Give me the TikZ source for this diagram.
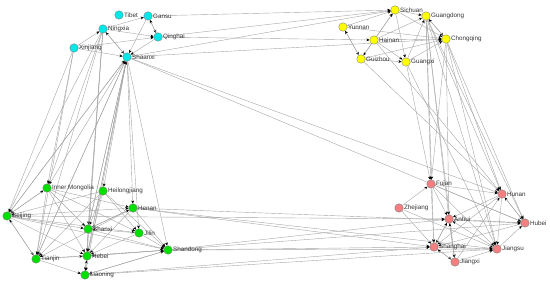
\documentclass[tikz,border=0pt]{standalone}
\usepackage{fontspec}
\setmainfont{Liberation Sans}
\usetikzlibrary{arrows.meta,backgrounds}
\definecolor{ncyan}{RGB}{0,232,232}
\definecolor{nyel}{RGB}{255,255,0}
\definecolor{ngrn}{RGB}{0,225,0}
\definecolor{nred}{RGB}{242,128,128}
\definecolor{edg}{RGB}{165,165,165}
\tikzset{
  nd/.style={circle,draw=black!55,line width=0.3pt,minimum size=8.5pt,inner sep=0pt},
  cy/.style={nd,fill=ncyan},
  ye/.style={nd,fill=nyel},
  gr/.style={nd,fill=ngrn},
  rd/.style={nd,fill=nred},
  lbl/.style={font=\fontsize{6.3}{7}\selectfont,text=black!80,inner sep=0.5pt,label distance=0pt},
  ed/.style={draw=edg,line width=0.4pt,-{Stealth[black,length=3.2pt,width=2.8pt]}}
}
\begin{document}
\begin{tikzpicture}[x=1pt,y=-1pt]
\useasboundingbox (0,0) rectangle (550,283);
% cyan
\node[cy,label={[lbl]right:Tibet}] (tib) at (119,15) {};
\node[cy,label={[lbl]right:Gansu}] (gan) at (148,16) {};
\node[cy,label={[lbl]right:Ningxia}] (nin) at (103,29) {};
\node[cy,label={[lbl]right:Qinghai}] (qin) at (158,37) {};
\node[cy,label={[lbl]right:Xinjiang}] (xin) at (74,48) {};
\node[cy,label={[lbl]right:Shaanxi}] (sha) at (127,57) {};
% yellow
\node[ye,label={[lbl]right:Sichuan}] (sic) at (395,10) {};
\node[ye,label={[lbl]right:Guangdong}] (gdg) at (426,16) {};
\node[ye,label={[lbl]right:Yunnan}] (yun) at (343,27) {};
\node[ye,label={[lbl]right:Hainan}] (hai) at (374,40) {};
\node[ye,label={[lbl]right:Chongqing}] (cho) at (446,39) {};
\node[ye,label={[lbl]right:Guizhou}] (gui) at (361,59) {};
\node[ye,label={[lbl]right:Guangxi}] (gxi) at (406,62) {};
% green
\node[gr,label={[lbl]right:Inner Mongolia}] (inm) at (47,188) {};
\node[gr,label={[lbl]right:Heilongjiang}] (hei) at (103,191) {};
\node[gr,label={[lbl]right:Beijing}] (bei) at (7,216) {};
\node[gr,label={[lbl]right:Henan}] (hen) at (133,208) {};
\node[gr,label={[lbl]right:Shanxi}] (shx) at (88,229) {};
\node[gr,label={[lbl]right:Jilin}] (jil) at (139,233) {};
\node[gr,label={[lbl]right:Shandong}] (sdg) at (168,250) {};
\node[gr,label={[lbl]right:Tianjin}] (tia) at (36,259) {};
\node[gr,label={[lbl]right:Hebei}] (heb) at (87,256) {};
\node[gr,label={[lbl]right:Liaoning}] (lia) at (85,275) {};
% red
\node[rd,label={[lbl]right:Fujan}] (fuj) at (431,184) {};
\node[rd,label={[lbl]right:Hunan}] (hun) at (502,194) {};
\node[rd,label={[lbl]right:Zhejiang}] (zhe) at (399,208) {};
\node[rd,label={[lbl]right:Anhui}] (anh) at (449,219) {};
\node[rd,label={[lbl]right:Hubei}] (hub) at (525,223) {};
\node[rd,label={[lbl]right:Shanghai}] (shg) at (434,247) {};
\node[rd,label={[lbl]right:Jiangsu}] (jsu) at (497,249) {};
\node[rd,label={[lbl]right:Jiangxi}] (jxi) at (455,262) {};
\begin{scope}[on background layer]
\foreach \a/\b in {
  nin/gan, gan/qin, qin/gan, nin/qin, xin/qin, xin/nin, xin/sha, nin/sha, sha/nin, gan/sha, qin/sha,
  gan/sic, qin/sic, sha/sic, sha/cho, qin/hai,
  yun/sic, gui/sic, hai/sic, yun/gui, gui/yun, hai/gxi, gui/gxi, hai/cho, yun/cho, gdg/cho, cho/gdg,
  gxi/cho, gxi/gdg, hai/gdg, sic/cho, sic/gdg, gui/cho, sic/gxi, hai/gui,
  gxi/fuj, gdg/fuj, gdg/anh, gdg/shg, gdg/jsu, gdg/hun, gdg/hub, cho/hun, cho/hub, cho/jsu, cho/anh,
  gui/hun, gxi/jsu, hai/hun, cho/fuj, gdg/jxi,
  sha/hun, sha/hub,
  fuj/anh, fuj/shg, fuj/hun, fuj/hub, fuj/jsu, zhe/fuj, zhe/shg, zhe/jsu, anh/hub, anh/shg, anh/jxi,
  shg/anh, shg/jsu, jsu/hub, hun/hub, hub/hun, jxi/hun, jxi/anh, shg/jxi, jxi/shg, jsu/anh, hun/anh,
  hub/shg, jxi/jsu, hun/jsu, hun/shg,
  hen/hub, hen/jsu, sdg/jsu, sdg/shg, sdg/anh, sdg/hub, lia/jsu, lia/shg, bei/anh, hen/shg,
  inm/bei, bei/inm, bei/hen, bei/shx, bei/tia, tia/bei, bei/heb, bei/sdg, bei/jil, hei/bei, hei/shx,
  hei/jil, hei/heb, hei/tia, hen/shx, hen/heb, hen/tia, shx/hen, jil/shx, jil/heb, sdg/heb, sdg/lia,
  tia/heb, heb/lia, lia/heb, tia/lia, lia/sdg, heb/sdg, shx/heb, inm/shx, inm/jil, inm/hen, inm/tia,
  tia/sdg, shx/sdg, jil/sdg, hen/sdg, inm/heb, hei/sdg,
  sha/bei, sha/inm, sha/shx, sha/heb, sha/hen, sha/jil, sha/tia, sha/sdg, sha/lia, sha/hei,
  bei/sha, tia/sha, heb/sha, shx/sha,
  xin/bei, xin/tia, xin/inm, nin/inm, nin/heb, nin/shx, nin/bei, nin/lia, nin/tia}
  \draw[ed] (\a) -- (\b);
\end{scope}
\end{tikzpicture}
\end{document}
